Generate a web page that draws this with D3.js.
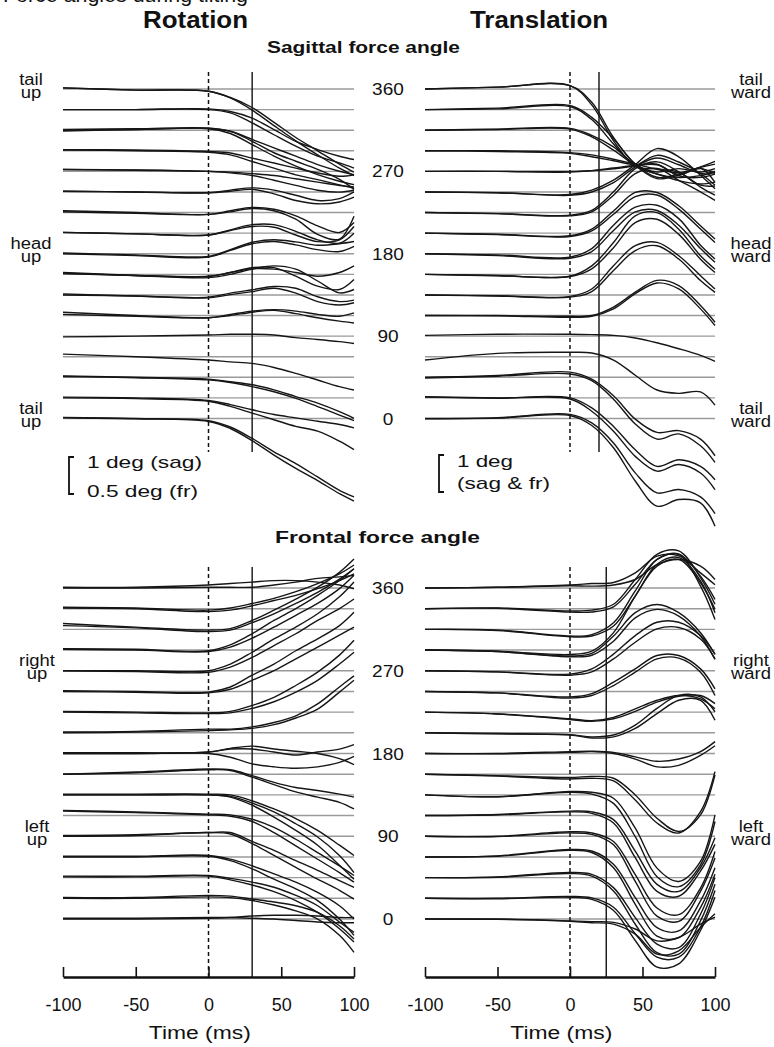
<!DOCTYPE html>
<html>
<head>
<meta charset="utf-8">
<script src="https://cdn.jsdelivr.net/npm/d3@7"></script>
<style>
  body { margin: 0; background: #fff; }
  text { font-family: "Liberation Sans", Arial, Helvetica, sans-serif; fill: #111; }
</style>
</head>
<body>
<script>
// sample times (ms) shared by every trace
var times = [-100, -50, 0, 15, 30, 45, 60, 75, 90, 100];
var timeTicks = [-100, -50, 0, 50, 100];
var angleTicks = [0, 90, 180, 270, 360];
var dirs = d3.range(17).map(function (k) { return k * 22.5; }); // target force directions
var onsets = [30, 20, 30, 25]; // response onset (ms) per panel

// deflection of force angle (deg, up = positive) for each trace, d = direction index
var rotSag = [
  {d:16,v:[.03,-.03,-.06,-.23,-.5,-.9,-1.31,-1.67,-2.03,-2.25]},
  {d:16,v:[.03,-.03,-.06,-.24,-.57,-.99,-1.4,-1.78,-2.14,-2.34]},
  {d:15,v:[0,0,.02,-.05,-.23,-.54,-.86,-1.08,-1.26,-1.35]},
  {d:15,v:[0,0,0,-.09,-.36,-.68,-.99,-1.26,-1.44,-1.58]},
  {d:14,v:[.02,.04,.06,-.03,-.25,-.48,-.7,-.93,-1.11,-1.2]},
  {d:14,v:[-.02,.02,.04,-.09,-.39,-.7,-.97,-1.2,-1.38,-1.47]},
  {d:14,v:[0,.02,.05,-.03,-.3,-.61,-.84,-1.06,-1.33,-1.6]},
  {d:13,v:[.03,.02,-.02,-.06,-.2,-.33,-.47,-.6,-.69,-.65]},
  {d:13,v:[.02,0,-.04,-.11,-.29,-.47,-.65,-.78,-.92,-1.01]},
  {d:12,v:[.05,.04,0,-.02,-.06,-.11,-.2,-.29,-.38,-.42]},
  {d:12,v:[.05,.03,0,-.04,-.11,-.24,-.38,-.51,-.56,-.51]},
  {d:11,v:[.02,0,-.02,.05,.11,.05,-.09,-.23,-.18,0]},
  {d:11,v:[.02,0,-.02,.02,.07,-.05,-.23,-.32,-.27,-.14]},
  {d:10,v:[.05,0,-.05,.05,.14,.09,-.09,-.36,-.54,-.27]},
  {d:10,v:[.02,-.02,-.05,.02,.11,.05,-.18,-.59,-.72,-.1]},
  {d:9,v:[.02,-.02,-.05,.09,.23,.23,.05,-.18,-.27,0]},
  {d:9,v:[.02,-.02,-.05,.07,.18,.16,-.05,-.23,-.18,.18]},
  {d:8,v:[.02,-.03,-.07,.11,.31,.38,.32,.23,.27,.33]},
  {d:8,v:[0,-.05,-.09,.09,.27,.33,.24,.11,.06,.2]},
  {d:7,v:[.05,-.03,-.09,0,.14,.23,.14,-.18,-.5,-.41]},
  {d:7,v:[.03,-.03,-.06,.05,.18,.18,-.05,-.32,-.41,-.14]},
  {d:7,v:[.02,-.03,-.05,.05,.15,.14,.05,-.05,.05,.23]},
  {d:6,v:[.03,-.03,-.06,.05,.14,.23,.18,-.05,-.18,-.14]},
  {d:6,v:[0,-.03,-.08,.01,.09,.18,.05,-.18,-.27,-.21]},
  {d:5,v:[.09,0,-.06,.03,.12,.16,.12,.03,-.02,.07]},
  {d:5,v:[.03,-.02,-.06,0,.09,.14,.05,-.06,-.15,-.2]},
  {d:4,v:[-.02,0,.03,.05,.05,.03,-.04,-.09,-.15,-.2]},
  {d:3,v:[.07,0,-.09,-.14,-.18,-.29,-.45,-.63,-.81,-.9]},
  {d:2,v:[.04,0,-.05,-.12,-.2,-.34,-.52,-.7,-.93,-1.11]},
  {d:2,v:[.02,-.01,-.07,-.14,-.25,-.39,-.57,-.79,-1.02,-1.17]},
  {d:1,v:[.02,0,-.07,-.18,-.32,-.45,-.54,-.63,-.72,-.81]},
  {d:1,v:[0,-.02,-.09,-.23,-.41,-.59,-.77,-.9,-1.17,-1.4]},
  {d:0,v:[.03,0,-.06,-.23,-.54,-.9,-1.22,-1.58,-1.94,-2.12]},
  {d:0,v:[.02,-.01,-.08,-.27,-.6,-.99,-1.35,-1.68,-2.03,-2.23]}
];

var transSag = [
  {d:16,v:[0,.05,.09,-.36,-1.31,-2.03,-2.3,-2.39,-2.34,-2.25]},
  {d:16,v:[0,.05,.09,-.43,-1.4,-2.09,-2.16,-2.25,-2.6,-2.62]},
  {d:15,v:[0,.04,.11,-.21,-.79,-1.47,-1.83,-1.74,-1.55,-1.4]},
  {d:15,v:[0,.02,.08,-.27,-.93,-1.53,-1.74,-1.92,-2.01,-1.96]},
  {d:14,v:[0,.03,.05,-.14,-.45,-.93,-1.13,-1.04,-1.13,-1.04]},
  {d:14,v:[0,.02,.03,-.18,-.54,-.96,-1.31,-1.22,-1.04,-1.17]},
  {d:13,v:[0,0,-.05,-.11,-.23,-.36,-.5,-.59,-.45,-.36]},
  {d:13,v:[0,-.02,-.07,-.16,-.27,-.38,-.36,-.68,-.72,-.63]},
  {d:12,v:[0,0,0,.02,.07,.16,.36,.18,-.05,0]},
  {d:12,v:[0,0,-.02,.02,.09,.16,.18,-.09,.09,-.3]},
  {d:11,v:[0,-.02,-.07,.05,.32,.74,1.17,.95,.45,.09]},
  {d:11,v:[0,-.02,-.09,0,.25,.68,.99,.81,.5,.18]},
  {d:10,v:[0,-.03,-.07,.06,.56,1.19,1.37,1.1,.69,.47]},
  {d:10,v:[0,-.03,-.09,.02,.47,1.05,1.19,.87,.56,.33]},
  {d:9,v:[0,-.03,-.07,.11,.6,1.1,1.1,.74,.2,-.16]},
  {d:9,v:[0,-.04,-.09,.06,.51,.99,1.03,.65,.11,-.25]},
  {d:8,v:[0,-.03,-.09,.14,.77,1.26,1.31,.95,.23,-.14]},
  {d:8,v:[0,-.05,-.12,.06,.63,1.13,1.17,.77,.14,-.23]},
  {d:7,v:[0,-.03,-.05,.23,.86,1.58,1.67,1.22,.5,.14]},
  {d:7,v:[0,-.04,-.06,.15,.72,1.4,1.49,1.08,.41,.05]},
  {d:6,v:[0,-.02,-.04,.16,.79,1.33,1.42,1.06,.52,.16]},
  {d:6,v:[0,-.03,-.06,.09,.66,1.2,1.33,.97,.39,.07]},
  {d:5,v:[0,0,-.02,0,.23,.63,.95,.81,.27,-.18]},
  {d:5,v:[0,-.01,-.05,-.02,.18,.59,.88,.72,.18,-.27]},
  {d:4,v:[.02,.05,.05,.04,.02,-.05,-.18,-.34,-.52,-.68]},
  {d:3,v:[-.09,.09,.12,.1,-.09,-.5,-.9,-.99,-.95,-1.31]},
  {d:2,v:[0,.05,.14,-.05,-.5,-1.13,-1.49,-1.44,-1.67,-2.12]},
  {d:2,v:[-.02,.03,.09,-.09,-.59,-1.26,-1.67,-1.53,-1.85,-2.3]},
  {d:1,v:[.03,0,0,-.27,-.77,-1.4,-1.85,-1.67,-1.85,-2.21]},
  {d:1,v:[.02,-.01,-.03,-.36,-.9,-1.58,-1.98,-1.8,-2.03,-2.48]},
  {d:0,v:[0,.02,.11,-.12,-.66,-1.47,-2.01,-1.92,-2.12,-2.57]},
  {d:0,v:[-.01,.01,.08,-.19,-.79,-1.69,-2.37,-2.19,-2.28,-2.91]}
];

var rotFront = [
  {d:16,v:[.01,.01,.04,.06,.08,.1,.1,.08,.04,-.01]},
  {d:16,v:[0,0,.01,.01,.01,.04,.08,.13,.15,.17]},
  {d:15,v:[.02,.01,-.02,.01,.07,.14,.23,.34,.47,.59]},
  {d:15,v:[.01,0,-.04,-.02,.04,.11,.18,.27,.38,.47]},
  {d:14,v:[.08,.03,-.01,.01,.12,.26,.41,.57,.77,.95]},
  {d:14,v:[.05,.02,-.03,-.01,.09,.21,.35,.5,.68,.82]},
  {d:13,v:[.02,.01,-.01,.07,.22,.4,.56,.74,.94,1.1]},
  {d:13,v:[.01,0,-.02,.04,.16,.31,.47,.63,.83,1.01]},
  {d:12,v:[0,0,0,.09,.25,.43,.59,.77,1,1.2]},
  {d:12,v:[0,-.01,-.02,.05,.18,.34,.5,.68,.84,.97]},
  {d:11,v:[.01,0,-.01,.06,.22,.37,.55,.71,.89,1.07]},
  {d:11,v:[0,-.01,-.02,.03,.15,.28,.44,.6,.76,.87]},
  {d:10,v:[.01,0,-.01,.01,.09,.2,.36,.54,.77,.97]},
  {d:10,v:[0,-.01,-.02,-.01,.05,.14,.27,.43,.65,.81]},
  {d:9,v:[.01,.02,.05,.05,.08,.14,.23,.39,.62,.77]},
  {d:9,v:[0,.01,.03,.04,.06,.11,.2,.32,.55,.71]},
  {d:8,v:[.01,.01,.02,.07,.1,.06,.03,0,-.07,-.15]},
  {d:8,v:[0,0,0,-.05,-.14,-.18,-.2,-.18,-.12,-.04]},
  {d:8,v:[0,0,.02,.06,.06,.02,-.02,.02,.06,.12]},
  {d:7,v:[0,.03,.07,.06,-.02,-.11,-.18,-.22,-.27,-.31]},
  {d:7,v:[0,.02,.06,.05,-.04,-.14,-.24,-.31,-.38,-.47]},
  {d:6,v:[.01,.01,.01,0,-.08,-.19,-.32,-.48,-.68,-.82]},
  {d:6,v:[0,0,0,-.02,-.11,-.23,-.39,-.57,-.82,-1.05]},
  {d:6,v:[0,0,0,-.03,-.14,-.3,-.48,-.68,-.95,-1.14]},
  {d:5,v:[.07,.05,.02,.01,-.05,-.16,-.32,-.5,-.68,-.81]},
  {d:5,v:[.06,.04,.01,-.01,-.08,-.23,-.41,-.59,-.77,-.9]},
  {d:4,v:[.01,.02,.05,.05,-.07,-.19,-.33,-.46,-.6,-.69]},
  {d:4,v:[0,.01,.05,.03,-.1,-.26,-.42,-.58,-.73,-.85]},
  {d:3,v:[.01,.01,.02,-.03,-.12,-.23,-.34,-.48,-.66,-.84]},
  {d:3,v:[0,0,.01,-.05,-.16,-.3,-.43,-.59,-.84,-1.06]},
  {d:2,v:[.02,.02,.03,-.01,-.06,-.13,-.24,-.38,-.6,-.74]},
  {d:2,v:[.01,.01,.02,-.03,-.1,-.19,-.31,-.47,-.69,-.87]},
  {d:1,v:[.01,.01,.04,.03,-.01,-.05,-.1,-.19,-.37,-.55]},
  {d:1,v:[0,0,.02,.01,-.03,-.09,-.17,-.28,-.5,-.73]},
  {d:0,v:[.01,.01,.02,.02,.01,0,-.02,-.04,-.05,-.05]},
  {d:0,v:[0,0,.01,.02,.04,.05,.05,.04,.02,.02]}
];

var transFront = [
  {d:16,v:[0,.02,.08,.12,.15,.41,.86,.87,.41,.09]},
  {d:16,v:[0,.02,.06,.05,.08,.23,.63,.77,.59,.23]},
  {d:15,v:[0,.02,-.06,-.04,.12,.79,1.47,1.56,.84,.12]},
  {d:15,v:[0,.01,-.09,-.09,.05,.66,1.33,1.47,.88,.25]},
  {d:14,v:[0,-.02,-.18,-.14,.18,1.04,1.89,2.03,1.17,.27]},
  {d:14,v:[0,-.03,-.2,-.18,.09,.9,1.76,1.94,1.31,.45]},
  {d:13,v:[0,-.04,-.16,-.09,.38,1.01,1.23,1.01,.47,-.12]},
  {d:13,v:[0,-.04,-.18,-.14,.24,.87,1.1,.92,.38,-.25]},
  {d:13,v:[0,-.03,-.12,-.03,.47,1.46,2.27,2.45,1.82,1.1]},
  {d:12,v:[0,-.03,-.09,.05,.45,.95,1.31,1.31,.95,.45]},
  {d:12,v:[0,-.03,-.12,-.03,.32,.77,1.13,1.17,.86,.32]},
  {d:11,v:[0,-.04,-.15,-.06,.25,.61,.97,.97,.61,.07]},
  {d:11,v:[0,-.04,-.18,-.11,.16,.52,.88,.9,.52,-.11]},
  {d:10,v:[0,-.05,-.18,-.23,-.14,.09,.32,.45,.36,.09]},
  {d:10,v:[0,-.05,-.2,-.25,-.18,.02,.27,.43,.45,.23]},
  {d:9,v:[0,-.02,-.05,-.11,-.06,.21,.66,1.01,.97,.57]},
  {d:9,v:[0,-.03,-.06,-.14,-.11,.12,.52,.88,.88,.34]},
  {d:8,v:[0,0,.05,.06,.03,-.09,-.21,-.15,.05,.32]},
  {d:8,v:[0,-.01,.03,.05,0,-.15,-.36,-.32,-.05,.21]},
  {d:7,v:[0,-.04,-.09,-.06,-.11,-.56,-1.19,-1.55,-1.1,-.02]},
  {d:7,v:[0,-.05,-.13,-.11,-.18,-.7,-1.32,-1.59,-1.01,.07]},
  {d:6,v:[0,-.05,.09,.07,-.09,-.9,-1.98,-2.34,-1.8,-.54]},
  {d:6,v:[0,-.05,.07,.02,-.23,-1.13,-2.21,-2.48,-1.89,-.72]},
  {d:5,v:[0,.03,.12,.1,-.11,-.96,-1.86,-2.05,-1.41,-.6]},
  {d:5,v:[0,.02,.1,.06,-.2,-1.14,-2.05,-2.18,-1.5,-.78]},
  {d:4,v:[0,0,.12,.09,-.14,-1.04,-1.94,-2.12,-1.4,-.41]},
  {d:4,v:[0,-.01,.09,.05,-.23,-1.22,-2.16,-2.3,-1.49,-.59]},
  {d:3,v:[0,.03,.2,.16,-.2,-1.1,-1.91,-2,-1.19,-.29]},
  {d:3,v:[0,.02,.18,.12,-.29,-1.28,-2.14,-2.18,-1.37,-.47]},
  {d:2,v:[0,.02,.14,.09,-.27,-1.08,-1.8,-1.89,-.99,0]},
  {d:2,v:[0,.01,.11,.04,-.36,-1.26,-2.03,-2.07,-1.17,-.18]},
  {d:1,v:[0,0,.05,.01,-.24,-.96,-1.59,-1.59,-.78,.21]},
  {d:1,v:[0,-.01,.03,-.03,-.33,-1.14,-1.86,-1.77,-.87,.03]},
  {d:0,v:[0,0,-.05,-.07,-.09,-.27,-.59,-.5,-.14,.05]},
  {d:0,v:[0,-.01,-.06,-.1,-.14,-.41,-.95,-.86,-.23,.14]}
];

var W = 774, H = 1047;
var svg = d3.select("body").append("svg").attr("width", W).attr("height", H);

// text helper; width = measured width in the picture, stretch = widen natural glyphs
function label(g, str, x, y, o) {
  o = o || {};
  var t = g.append("text")
    .attr("x", x).attr("y", y)
    .attr("text-anchor", o.anchor || "middle")
    .style("font-size", (o.size || 17) + "px")
    .style("font-weight", o.bold ? "bold" : "normal")
    .text(str);
  if (o.dy) t.attr("dy", o.dy);
  var w = o.width || t.node().getComputedTextLength() * (o.stretch || 1.12);
  t.attr("textLength", w).attr("lengthAdjust", "spacingAndGlyphs");
  return t;
}

var panels = [
  { data: rotSag,     x0: 63,  x1: 354, yTop: 89,  yBot: 418.5, degPx: 37, vTop: 72,  vBot: 452, onset: onsets[0] },
  { data: transSag,   x0: 425, x1: 715, yTop: 89,  yBot: 418.5, degPx: 37, vTop: 72,  vBot: 452, onset: onsets[1] },
  { data: rotFront,   x0: 63,  x1: 354, yTop: 588, yBot: 919,   degPx: 74, vTop: 567, vBot: 977, onset: onsets[2], axis: true },
  { data: transFront, x0: 425, x1: 715, yTop: 588, yBot: 919,   degPx: 37, vTop: 567, vBot: 977, onset: onsets[3], axis: true }
];

panels.forEach(function (p) {
  var x = d3.scaleLinear().domain([-100, 100]).range([p.x0, p.x1]);
  var y = d3.scaleLinear().domain([0, 360]).range([p.yBot, p.yTop]);
  var dy = d3.scaleLinear().domain([0, 1]).range([0, p.degPx]);
  var g = svg.append("g");

  // reference lines for each direction
  g.selectAll("line.ref").data(dirs).enter().append("line")
    .attr("class", "ref")
    .attr("x1", x(-100)).attr("x2", x(100))
    .attr("y1", function (d) { return y(d); })
    .attr("y2", function (d) { return y(d); })
    .attr("stroke", "#9a9a9a").attr("stroke-width", 1.4);

  // stimulus (dashed) and response onset (solid)
  g.append("line").attr("x1", x(0)).attr("x2", x(0)).attr("y1", p.vTop).attr("y2", p.vBot)
    .attr("stroke", "#111").attr("stroke-width", 1.5).attr("stroke-dasharray", "4,3");
  g.append("line").attr("x1", x(p.onset)).attr("x2", x(p.onset)).attr("y1", p.vTop).attr("y2", p.vBot)
    .attr("stroke", "#111").attr("stroke-width", 1.4);

  var line = d3.line()
    .x(function (d, i) { return x(times[i]); })
    .curve(d3.curveCatmullRom.alpha(0.5));

  g.selectAll("path.trace").data(p.data).enter().append("path")
    .attr("class", "trace")
    .attr("d", function (tr) {
      var base = y(dirs[tr.d]);
      return line.y(function (v) { return base - dy(v); })(tr.v);
    })
    .attr("fill", "none").attr("stroke", "#161616").attr("stroke-width", 1.4);

  if (p.axis) {
    var ax = svg.append("g")
      .attr("transform", "translate(0,977)")
      .call(d3.axisBottom(x).tickValues(timeTicks)
        .tickFormat(function (d) { return String(d); })
        .tickSizeInner(-10).tickSizeOuter(0).tickPadding(21));
    ax.select(".domain").attr("stroke", "#111").attr("stroke-width", 2.5);
    ax.selectAll(".tick line").attr("stroke", "#111").attr("stroke-width", 1.6);
    ax.selectAll(".tick text").style("font-size", "18px")
      .style("font-family", '"Liberation Sans", Arial, sans-serif').attr("fill", "#111");
    label(svg, "Time (ms)", x(-6), 1039, { size: 18, width: 102 });
  }
});

// centre angle labels
[{ top: 89, bot: 418.5 }, { top: 588, bot: 919 }].forEach(function (r) {
  var y = d3.scaleLinear().domain([0, 360]).range([r.bot, r.top]);
  angleTicks.forEach(function (a) {
    label(svg, String(a), 388, y(a), { size: 17, dy: "0.36em" });
  });
});

// side labels
var ySag = d3.scaleLinear().domain([0, 360]).range([418.5, 89]);
var yFr = d3.scaleLinear().domain([0, 360]).range([919, 588]);
var sideLabels = [
  { a: 360, s: ySag, x: 31,  t: ["tail", "up"] },
  { a: 180, s: ySag, x: 31,  t: ["head", "up"] },
  { a: 0,   s: ySag, x: 31,  t: ["tail", "up"] },
  { a: 360, s: ySag, x: 751, t: ["tail", "ward"] },
  { a: 180, s: ySag, x: 751, t: ["head", "ward"] },
  { a: 0,   s: ySag, x: 751, t: ["tail", "ward"] },
  { a: 270, s: yFr,  x: 37,  t: ["right", "up"] },
  { a: 90,  s: yFr,  x: 37,  t: ["left", "up"] },
  { a: 270, s: yFr,  x: 751, t: ["right", "ward"] },
  { a: 90,  s: yFr,  x: 751, t: ["left", "ward"] }
];
sideLabels.forEach(function (l) {
  var yc = l.s(l.a);
  label(svg, l.t[0], l.x, yc - 4.5, { size: 16, stretch: 1.15 });
  label(svg, l.t[1], l.x, yc + 8.5, { size: 16, stretch: 1.15 });
});

// titles
label(svg, "Force angles during tilting", 248, 2, { size: 20, anchor: "end", width: 245 });
label(svg, "Rotation", 195.5, 28, { size: 23, bold: true, width: 105 });
label(svg, "Translation", 539, 28, { size: 23, bold: true, width: 138 });
label(svg, "Sagittal force angle", 363.5, 53, { size: 17, bold: true, width: 193 });
label(svg, "Frontal force angle", 377.5, 543, { size: 17, bold: true, width: 205 });

// scale bars
function bracket(x, y0, h) {
  svg.append("path")
    .attr("d", "M" + (x + 5) + "," + y0 + "H" + x + "V" + (y0 + h) + "H" + (x + 5))
    .attr("fill", "none").attr("stroke", "#111").attr("stroke-width", 1.8);
}
bracket(69, 457, 37);
label(svg, "1 deg (sag)", 87, 468, { size: 17, anchor: "start", width: 115 });
label(svg, "0.5 deg (fr)", 87, 497, { size: 17, anchor: "start", width: 111 });
bracket(439, 455, 37);
label(svg, "1 deg", 457, 467, { size: 17, anchor: "start", width: 56 });
label(svg, "(sag & fr)", 457, 489, { size: 17, anchor: "start", width: 93 });
</script>
</body>
</html>
